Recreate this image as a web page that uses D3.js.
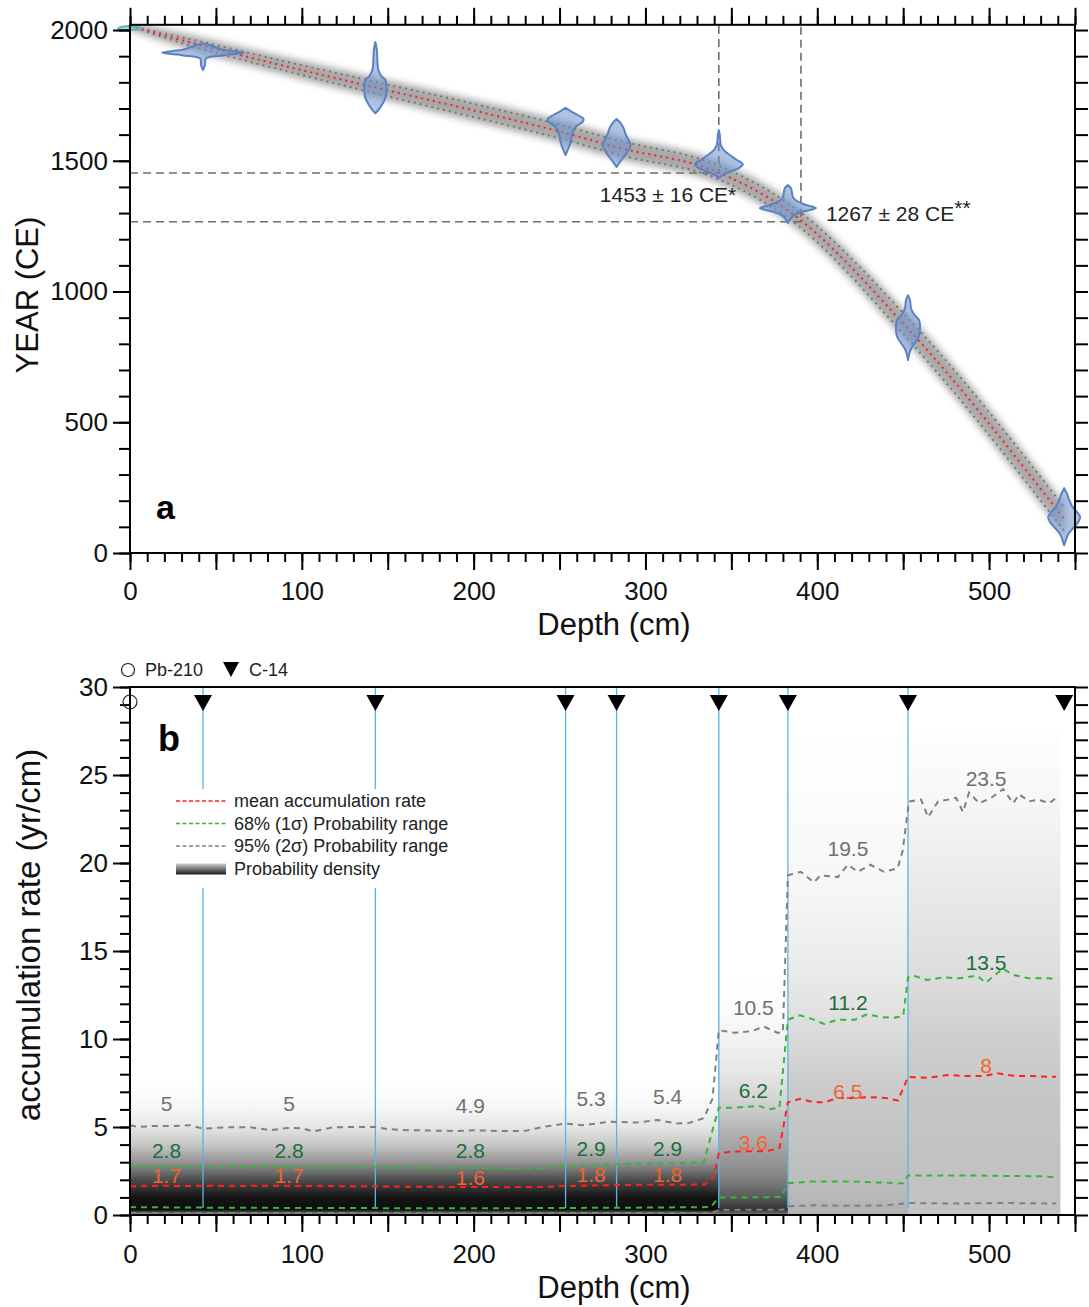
<!DOCTYPE html>
<html>
<head>
<meta charset="utf-8">
<script src="https://cdn.jsdelivr.net/npm/d3@7"></script>
<style>
  body { margin: 0; background: #fff; }
  svg { display: block; }
</style>
</head>
<body>
<svg id="chart" width="1089" height="1307"></svg>
<script>
// ---------------- data ----------------
// (a) age–depth model: mean calendar age and 95% half-width (years)
const ageDepth = [0, 42.5, 68, 142.8, 192, 253.5, 283.2, 342.7, 382.9, 452.8, 543.7];
const ageMean  = [2015, 1940, 1898, 1780, 1705, 1606, 1552, 1455, 1310, 858, 130];
const ageHalf  = [0, 14, 16, 22, 25, 26, 27, 26, 28, 40, 45];

// dated levels (cm): Pb-210 at the top, C-14 below
const pbDepths = [0];
const c14Depths = [42.5, 142.8, 253.5, 283.2, 342.7, 382.9, 452.8, 543.7];

// calibrated age distributions drawn as violins: years and relative density
const pbYears   = [2015, 2010, 2004, 2000];
const pbDensity = [0, 10, 12, 0];
const c14Years = [
  [1949, 1943, 1935, 1925, 1920, 1914, 1910, 1906, 1902, 1899, 1895, 1889, 1866, 1847],
  [1954, 1923, 1885, 1847, 1824, 1809, 1790, 1763, 1740, 1717, 1694, 1682],
  [1702, 1690, 1675, 1660, 1648, 1633, 1617, 1594, 1571, 1549, 1522],
  [1660, 1644, 1625, 1602, 1579, 1560, 1541, 1518, 1499, 1476],
  [1617, 1598, 1560, 1541, 1522, 1503, 1487, 1472, 1457, 1441, 1434],
  [1407, 1396, 1380, 1361, 1346, 1331, 1319, 1308, 1296, 1281, 1262],
  [986, 967, 936, 913, 891, 860, 829, 803, 780, 765, 738],
  [248, 225, 202, 179, 156, 137, 118, 95, 72, 53, 30]
];
const c14Density = [
  [0, 6, 12, 20, 30, 41, 36, 25, 18, 10, 5, 2.5, 2, 0],
  [0, 1.5, 2, 3, 6, 10, 11, 11, 10, 7, 3, 0],
  [0, 5, 12, 18, 17, 11, 8, 6, 5, 3, 0],
  [0, 4, 7, 9, 12, 14, 12, 8, 4, 0],
  [0, 1, 2, 5, 11, 18, 24, 20, 10, 2, 0],
  [0, 3, 4, 5, 9, 18, 28, 18, 8, 3, 0],
  [0, 2, 3, 6, 11, 12, 11, 7, 3, 1.5, 0],
  [0, 3, 5, 8, 13, 16, 14, 9, 4, 2, 0]
];

// key horizons
const horizonDepths = [342.7, 390.5];
const horizonYears  = [1453, 1267];
const horizonErrors = [16, 28];

// (b) accumulation rate (yr/cm): [depth, value]
const rateMean = [[0,1.63],[10,1.65],[20,1.66],[30,1.65],[42.5,1.66],[60,1.65],[80,1.66],[100,1.65],[120,1.64],[142.8,1.63],[160,1.61],[180,1.6],[200,1.59],[220,1.58],[240,1.6],[253.5,1.65],[270,1.68],[283.2,1.7],[300,1.72],[320,1.72],[335,1.75],[340,2.2],[342.7,3.5],[350,3.6],[360,3.62],[370,3.62],[378,3.8],[382.9,6.4],[390,6.6],[398,6.4],[404,6.4],[412,6.65],[422,6.65],[430,6.7],[440,6.65],[447,6.5],[452.8,7.85],[465,7.8],[476,7.95],[486,7.9],[497,7.9],[505,8.05],[515,7.9],[525,7.9],[535,7.85],[539,7.85]];
const rate1sHi = [[0,2.8],[10,2.7],[20,2.72],[30,2.72],[42.5,2.7],[55,2.7],[70,2.72],[90,2.72],[110,2.68],[130,2.7],[142.8,2.7],[160,2.68],[180,2.66],[200,2.68],[220,2.63],[240,2.65],[253.5,2.8],[265,2.85],[283.2,2.88],[300,2.92],[320,2.95],[334,3.0],[339,4.8],[342.7,6.1],[352,6.1],[360,6.15],[366,6.2],[372,6.0],[378,6.1],[382.9,11.1],[390,11.35],[398,11.1],[404,10.85],[412,11.1],[422,11.1],[429,11.4],[437,11.25],[444,11.2],[450,11.3],[452.8,13.5],[456,13.6],[464,13.35],[473,13.5],[483,13.45],[493,13.6],[498,13.2],[508,14.0],[514,13.65],[523,13.45],[535,13.45],[539,13.4]];
const rate1sLo = [[0,0.45],[40,0.42],[100,0.4],[200,0.38],[253.5,0.4],[300,0.42],[338,0.45],[342.7,1.0],[360,1.0],[379,1.02],[382.9,1.8],[395,1.9],[420,1.9],[435,1.85],[450,1.8],[452.8,2.25],[470,2.25],[490,2.25],[510,2.22],[530,2.2],[539,2.15]];
const rate2sHi = [[0,5.1],[5,5.0],[12,5.05],[26,5.05],[35,5.1],[42.5,4.9],[55,4.98],[70,4.98],[82,4.82],[92,4.95],[100,4.93],[106.6,4.75],[118,4.98],[130,5.0],[142.8,5.0],[150,4.88],[162,4.82],[175,4.8],[190,4.77],[200,4.82],[215,4.77],[230,4.78],[240,5.0],[253.5,5.2],[263,5.1],[280,5.3],[295,5.25],[307,5.4],[318,5.2],[325,5.22],[334,5.5],[339,6.6],[342.7,10.5],[352,10.35],[362,10.45],[369,10.7],[377,10.35],[380,10.4],[382.9,19.3],[390.4,19.5],[398,18.9],[402,19.3],[412,19.2],[417.8,19.9],[423.7,19.5],[431,19.9],[438.8,19.5],[446.8,19.7],[449.7,20.7],[453.4,23.5],[460.4,23.6],[464.5,22.6],[470.3,23.5],[476.1,23.6],[480.8,23.7],[484.8,22.9],[488.3,24.0],[494.2,23.4],[501.2,23.7],[508.2,24.2],[514,23.4],[517.5,23.9],[523.3,23.5],[528.6,23.6],[535,23.4],[539,23.7]];
const rate2sLo = [[0,0.12],[100,0.12],[200,0.1],[300,0.12],[338,0.12],[342.7,0.28],[360,0.3],[380,0.3],[382.9,0.5],[400,0.55],[420,0.52],[440,0.55],[452.8,0.68],[480,0.65],[510,0.68],[539,0.65]];

// segment summaries between dated levels
const segBounds   = [0, 42.5, 142.8, 253.5, 283.2, 342.7, 382.9, 452.8, 543.7];
const segMean     = [1.7, 1.7, 1.6, 1.8, 1.8, 3.6, 6.5, 8];
const segSigma1   = [2.8, 2.8, 2.8, 2.9, 2.9, 6.2, 11.2, 13.5];
const segSigma2   = [5, 5, 4.9, 5.3, 5.4, 10.5, 19.5, 23.5];

// probability density of the rate (darkness 0–1) for each section
const densStart  = [0, 342.7, 382.9, 452.8];
const densEnd    = [342.7, 382.9, 452.8, 541.5];
const densLevels = [0, 0.3, 1, 2, 3, 4, 5, 6, 7, 8, 10, 12, 14, 16, 18, 20, 22, 24, 26, 28];
const densValues = [
  [0.35,0.95,0.92,0.7,0.42,0.22,0.1,0.04,0.01,0,0,0,0,0,0,0,0,0,0,0],
  [0.5,0.8,0.65,0.5,0.42,0.35,0.28,0.2,0.15,0.1,0.05,0.01,0,0,0,0,0,0,0,0],
  [0.3,0.3,0.28,0.26,0.25,0.24,0.23,0.22,0.21,0.19,0.15,0.11,0.08,0.06,0.04,0.03,0.02,0.01,0.005,0],
  [0.22,0.24,0.24,0.24,0.24,0.24,0.23,0.23,0.22,0.21,0.19,0.16,0.13,0.11,0.09,0.07,0.05,0.03,0.015,0]
];

// axis ticks
const depthMinor = d3.range(0, 551, 10);
const depthMajor = d3.range(0, 551, 50);
const yearMinor  = d3.range(0, 2001, 100);
const yearMajor  = [0, 500, 1000, 1500, 2000];
const rateMinor  = d3.range(0, 31, 1);
const rateMajor  = [0, 5, 10, 15, 20, 25, 30];

// legend entries
const legendLabels = ["mean accumulation rate", "68% (1σ) Probability range", "95% (2σ) Probability range", "Probability density"];

// ---------------- drawing ----------------
const FONT = '"Liberation Sans", Arial, Helvetica, sans-serif';
const svg = d3.select("#chart").attr("font-family", FONT);
const L = 130, R = 1075;

const xA = d3.scaleLinear().domain([0, 550]).range([L, R]);
const yA = d3.scaleLinear().domain([0, 2020]).range([553, 24.8]);
const xB = d3.scaleLinear().domain([0, 550]).range([L, R]);
const yB = d3.scaleLinear().domain([0, 30]).range([1215, 687]);
const violinW = d3.scaleLinear().domain([0, 42]).range([0, 42]);

const COL_RED = "#ff2020", COL_GREEN = "#33b83a", COL_GRAY = "#808080";
const COL_BLUE = "#5ab4e4";

const defs = svg.append("defs");

function axis(g, gen, vals, size, fmt, pad) {
  g.call(gen.tickValues(vals).tickSize(size).tickPadding(pad || 4).tickFormat(fmt || (() => "")));
  g.select(".domain").remove();
  g.attr("font-family", FONT).attr("font-size", 26);
  g.selectAll(".tick line").attr("stroke", "#000").attr("stroke-width", 2);
  g.selectAll(".tick text").attr("fill", "#111");
}

// ===== panel a =====
const gA = svg.append("g");
defs.append("clipPath").attr("id", "clipA").append("rect")
  .attr("x", L).attr("y", yA(2020)).attr("width", R - L).attr("height", yA(0) - yA(2020));
defs.append("filter").attr("id", "soft").attr("x", "-20%").attr("y", "-20%").attr("width", "140%").attr("height", "140%")
  .append("feGaussianBlur").attr("stdDeviation", 3.5);

const ageRows = ageDepth.map((d, i) => ({ d, m: ageMean[i], h: ageHalf[i] }));

// uncertainty band
gA.append("g").attr("clip-path", "url(#clipA)").append("path")
  .datum(ageRows)
  .attr("d", d3.area().x(r => xA(r.d)).y0(r => yA(r.m - r.h - 16)).y1(r => yA(r.m + r.h + 16)).curve(d3.curveMonotoneX))
  .attr("fill", "#8a8a8a").attr("opacity", 0.75).attr("filter", "url(#soft)");

// horizon guide lines
horizonDepths.forEach((hd, i) => {
  gA.append("path")
    .attr("d", `M${xA(0)},${yA(horizonYears[i])}H${xA(hd)}V${yA(2020)}`)
    .attr("fill", "none").attr("stroke", "#6e6e6e").attr("stroke-width", 1.6).attr("stroke-dasharray", "8,5");
});

// range and mean curves
[-1, 1].forEach(s => {
  gA.append("path").datum(ageRows)
    .attr("d", d3.line().x(r => xA(r.d)).y(r => yA(r.m + s * r.h)).curve(d3.curveMonotoneX))
    .attr("fill", "none").attr("stroke", "#777").attr("stroke-width", 2).attr("stroke-dasharray", "2,4");
});
gA.append("path").datum(ageRows)
  .attr("d", d3.line().x(r => xA(r.d)).y(r => yA(r.m)).curve(d3.curveMonotoneX))
  .attr("fill", "none").attr("stroke", "#ff2020").attr("stroke-width", 2).attr("stroke-dasharray", "2,4");

// violins
function violin(depth, years, dens, fill, stroke) {
  const pts = years.map((y, i) => ({ y, w: dens[i] }));
  gA.append("path").datum(pts)
    .attr("d", d3.area().y(p => yA(p.y)).x0(p => xA(depth) - violinW(p.w)).x1(p => xA(depth) + violinW(p.w)).curve(d3.curveCatmullRom.alpha(0.5)))
    .attr("fill", fill).attr("stroke", stroke).attr("stroke-width", 2).attr("stroke-linejoin", "round");
}
violin(pbDepths[0], pbYears, pbDensity, "rgba(110,190,190,0.6)", "#62b3b3");
c14Depths.forEach((d, i) => violin(d, c14Years[i], c14Density[i], "rgba(110,145,205,0.55)", "#5a82c3"));

// horizon labels
gA.append("text").attr("x", xA(horizonDepths[0]) - 119).attr("y", yA(horizonYears[0]) + 29)
  .attr("font-size", 21).attr("fill", "#222")
  .text(`${horizonYears[0]} ± ${horizonErrors[0]} CE*`);
const t2 = gA.append("text").attr("x", xA(horizonDepths[1]) + 25).attr("y", yA(horizonYears[1]) - 1)
  .attr("font-size", 21).attr("fill", "#222");
t2.append("tspan").text(`${horizonYears[1]} ± ${horizonErrors[1]} CE`);
t2.append("tspan").attr("dy", -6).text("**");

// frame and axes
gA.append("rect").attr("x", L).attr("y", yA(2020)).attr("width", R - L).attr("height", yA(0) - yA(2020))
  .attr("fill", "none").attr("stroke", "#000").attr("stroke-width", 2);
axis(gA.append("g").attr("transform", `translate(0,${yA(0)})`), d3.axisBottom(xA), depthMinor, 9);
axis(gA.append("g").attr("transform", `translate(0,${yA(0)})`), d3.axisBottom(xA), depthMajor, 17, d => d % 100 === 0 ? d : "", 12);
axis(gA.append("g").attr("transform", `translate(0,${yA(2020)})`), d3.axisTop(xA), depthMinor, 9);
axis(gA.append("g").attr("transform", `translate(0,${yA(2020)})`), d3.axisTop(xA), depthMajor, 17);
axis(gA.append("g").attr("transform", `translate(${L},0)`), d3.axisLeft(yA), yearMinor, 11);
axis(gA.append("g").attr("transform", `translate(${L},0)`), d3.axisLeft(yA), yearMajor, 17, d => d, 5);
axis(gA.append("g").attr("transform", `translate(${R},0)`), d3.axisRight(yA), yearMinor, 13);

gA.append("text").attr("transform", "translate(27,295) rotate(-90)").attr("text-anchor", "middle")
  .attr("dy", "0.36em").attr("font-size", 31).attr("fill", "#111").text("YEAR (CE)");
gA.append("text").attr("x", 614).attr("y", 635).attr("text-anchor", "middle")
  .attr("font-size", 31).attr("fill", "#111").text("Depth (cm)");
gA.append("text").attr("x", 156).attr("y", 519).attr("font-size", 34).attr("font-weight", "bold").text("a");

// ===== panel b =====
const gB = svg.append("g");

// probability density shading
densStart.forEach((d0, i) => {
  const id = "dens" + i;
  const grad = defs.append("linearGradient").attr("id", id).attr("gradientUnits", "userSpaceOnUse")
    .attr("x1", 0).attr("x2", 0).attr("y1", yB(0)).attr("y2", yB(28));
  densLevels.forEach((lv, k) => {
    grad.append("stop").attr("offset", lv / 28).attr("stop-color", "#000").attr("stop-opacity", densValues[i][k]);
  });
  gB.append("rect").attr("x", xB(d0)).attr("width", xB(densEnd[i]) - xB(d0))
    .attr("y", yB(28)).attr("height", yB(0) - yB(28)).attr("fill", `url(#${id})`);
});

// dated-level guide lines
c14Depths.slice(0, -1).forEach(d => {
  gB.append("line").attr("x1", xB(d)).attr("x2", xB(d)).attr("y1", yB(30)).attr("y2", yB(0.4))
    .attr("stroke", COL_BLUE).attr("stroke-width", 1.3);
});

// rate curves
const rateLine = d3.line().x(p => xB(p[0])).y(p => yB(p[1]));
[[rate2sLo, COL_GRAY], [rate2sHi, COL_GRAY], [rate1sLo, COL_GREEN], [rate1sHi, COL_GREEN], [rateMean, COL_RED]]
  .forEach(([data, col]) => {
    gB.append("path").attr("d", rateLine(data)).attr("fill", "none").attr("stroke", col)
      .attr("stroke-width", 2).attr("stroke-dasharray", "6,5");
  });

// segment value labels
const mids = segMean.map((_, i) => (segBounds[i] + segBounds[i + 1]) / 2);
function segLabels(vals, col, off) {
  vals.forEach((v, i) => {
    gB.append("text").attr("x", xB(mids[i])).attr("y", yB(v) - off).attr("dy", "0.35em")
      .attr("text-anchor", "middle").attr("font-size", 21).attr("fill", col).text(v);
  });
}
segLabels(segSigma2, "#707070", 23);
segLabels(segSigma1, "#1b6e3a", 15);
segLabels(segMean, "#f26430", 9);

// legend
const lg = gB.append("g");
lg.append("rect").attr("x", 166).attr("y", 789).attr("width", 300).attr("height", 99).attr("fill", "#fff");
const lgCols = [COL_RED, COL_GREEN, COL_GRAY];
legendLabels.forEach((lab, i) => {
  const yy = 801 + i * 22.5;
  if (i < 3) {
    lg.append("line").attr("x1", 176).attr("x2", 226).attr("y1", yy).attr("y2", yy)
      .attr("stroke", lgCols[i]).attr("stroke-width", 1.6).attr("stroke-dasharray", "4,2.5");
  } else {
    const g2 = defs.append("linearGradient").attr("id", "lgDens").attr("x1", 0).attr("x2", 0).attr("y1", 0).attr("y2", 1);
    g2.append("stop").attr("offset", 0).attr("stop-color", "#d0d0d0");
    g2.append("stop").attr("offset", 1).attr("stop-color", "#1a1a1a");
    lg.append("rect").attr("x", 176).attr("y", yy - 5).attr("width", 50).attr("height", 11).attr("fill", "url(#lgDens)");
  }
  lg.append("text").attr("x", 234).attr("y", yy).attr("dy", "0.35em").attr("font-size", 18).attr("fill", "#222").text(lab);
});

// frame and axes
gB.append("rect").attr("x", L).attr("y", yB(30)).attr("width", R - L).attr("height", yB(0) - yB(30))
  .attr("fill", "none").attr("stroke", "#000").attr("stroke-width", 2);
axis(gB.append("g").attr("transform", `translate(0,${yB(0)})`), d3.axisBottom(xB), depthMinor, 9);
axis(gB.append("g").attr("transform", `translate(0,${yB(0)})`), d3.axisBottom(xB), depthMajor, 17, d => d % 100 === 0 ? d : "", 13);
axis(gB.append("g").attr("transform", `translate(${L},0)`), d3.axisLeft(yB), rateMinor, 10);
axis(gB.append("g").attr("transform", `translate(${L},0)`), d3.axisLeft(yB), rateMajor, 17, d => d, 5);
axis(gB.append("g").attr("transform", `translate(${R},0)`), d3.axisRight(yB), rateMinor, 13);

// dating markers
pbDepths.forEach(d => {
  gB.append("circle").attr("cx", xB(d)).attr("cy", yB(30) + 15).attr("r", 7)
    .attr("fill", "none").attr("stroke", "#222").attr("stroke-width", 1.2);
});
c14Depths.forEach(d => {
  const cx = xB(d), top = yB(30) + 8;
  gB.append("path").attr("d", `M${cx - 9},${top}L${cx + 9},${top}L${cx},${top + 16}Z`).attr("fill", "#000");
});

// marker key above the panel
gB.append("circle").attr("cx", 128).attr("cy", 670).attr("r", 6.5).attr("fill", "none").attr("stroke", "#222").attr("stroke-width", 1.2);
gB.append("text").attr("x", 145).attr("y", 670).attr("dy", "0.36em").attr("font-size", 18).attr("fill", "#222").text("Pb-210");
gB.append("path").attr("d", "M223,662L239,662L231,677Z").attr("fill", "#000");
gB.append("text").attr("x", 249).attr("y", 670).attr("dy", "0.36em").attr("font-size", 18).attr("fill", "#222").text("C-14");

gB.append("text").attr("transform", "translate(28,935) rotate(-90)").attr("text-anchor", "middle")
  .attr("dy", "0.36em").attr("font-size", 33).attr("fill", "#111").text("accumulation rate (yr/cm)");
gB.append("text").attr("x", 614).attr("y", 1298).attr("text-anchor", "middle")
  .attr("font-size", 31).attr("fill", "#111").text("Depth (cm)");
gB.append("text").attr("x", 158).attr("y", 751).attr("font-size", 36).attr("font-weight", "bold").text("b");
</script>
</body>
</html>
